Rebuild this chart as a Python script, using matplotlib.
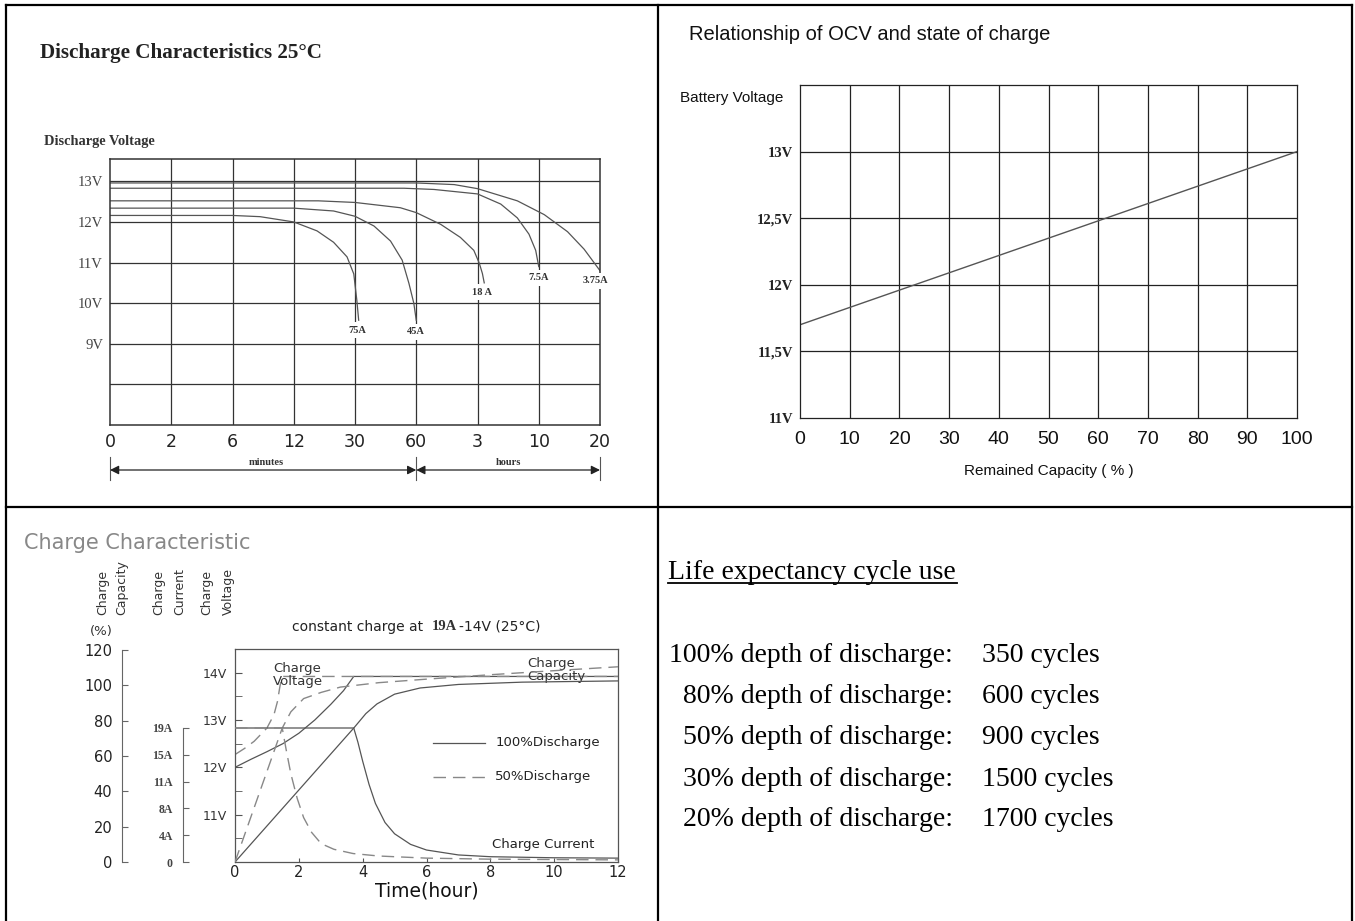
import matplotlib
matplotlib.use("Agg")
import matplotlib.pyplot as plt
from matplotlib.lines import Line2D
import numpy as np

W, H = 1355, 921
SERIF = "Liberation Serif"
ARIAL = "Liberation Sans"
NARROW = ["Liberation Sans Narrow", "Liberation Sans"]

# --- discharge characteristics (x in grid columns: 0,2,6,12,30,60 min | 3,10,20 h)
discharge_ticks = ["0", "2", "6", "12", "30", "60", "3", "10", "20"]
discharge_vticks = [9, 10, 11, 12, 13]
d375_x = [0, 5.0, 5.62, 6.0, 6.65, 7.09, 7.47, 7.74, 8.0]
d375_v = [12.96, 12.96, 12.92, 12.82, 12.52, 12.18, 11.76, 11.33, 10.8]
d7_5_x = [0, 4.8, 5.29, 6.0, 6.38, 6.65, 6.84, 6.95, 7.0]
d7_5_v = [12.83, 12.83, 12.8, 12.69, 12.44, 12.1, 11.7, 11.3, 10.9]
d18_x = [0, 3.4, 4.0, 4.74, 5.0, 5.4, 5.72, 5.94, 6.03, 6.08, 6.11]
d18_v = [12.52, 12.52, 12.48, 12.35, 12.23, 11.94, 11.62, 11.3, 10.98, 10.73, 10.5]
d45_x = [0, 3.0, 3.65, 4.0, 4.31, 4.58, 4.77, 4.88, 4.96, 5.0]
d45_v = [12.34, 12.34, 12.27, 12.14, 11.9, 11.53, 11.06, 10.49, 10.0, 9.58]
d75_x = [0, 2.0, 2.45, 3.0, 3.38, 3.65, 3.87, 3.98, 4.03, 4.06]
d75_v = [12.16, 12.16, 12.13, 12.0, 11.78, 11.5, 11.14, 10.72, 10.07, 9.58]
curve_labels = ["75A", "45A", "18 A", "7.5A", "3.75A"]
curve_label_x = [4.03, 5.0, 6.08, 7.0, 7.92]
curve_label_v = [9.33, 9.3, 10.27, 10.62, 10.55]

# --- OCV vs state of charge
ocv_capacity = [0, 100]
ocv_voltage = [11.7, 13.0]
ocv_vticks = [11, 11.5, 12, 12.5, 13]
ocv_vlabels = ["11V", "11,5V", "12V", "12,5V", "13V"]

# --- charge characteristic (time in hours)
v100_t = [0, 0.5, 1.0, 1.5, 2.0, 2.5, 3.0, 3.4, 3.72, 12]
v100_v = [12.0, 12.17, 12.33, 12.5, 12.72, 13.0, 13.33, 13.62, 13.92, 13.92]
v50_t = [0, 0.3, 0.6, 1.0, 1.22, 1.33, 1.4, 1.47, 12]
v50_v = [12.27, 12.4, 12.55, 12.83, 13.11, 13.39, 13.68, 13.92, 13.92]
cap100_t = [0, 3.72, 4.1, 4.45, 5.0, 5.8, 7.0, 9.0, 12]
cap100 = [0, 75.8, 84, 89.5, 95, 98.5, 100.5, 101.8, 102.5]
cap50_t = [0, 1.48, 1.75, 2.15, 2.7, 3.3, 4.5, 6, 8, 10, 12]
cap50 = [0, 75.8, 85, 92.5, 96, 99, 101.5, 103.5, 106, 108.3, 110.5]
i100_t = [0, 3.72, 3.85, 4.0, 4.2, 4.4, 4.7, 5.0, 5.5, 6.0, 7.0, 8.0, 10, 12]
i100 = [19, 19, 17, 14.3, 11, 8.3, 5.6, 4.0, 2.5, 1.7, 1.0, 0.75, 0.6, 0.55]
i50_t = [0, 1.48, 1.6, 1.75, 1.95, 2.15, 2.4, 2.7, 3.1, 3.7, 4.5, 6, 8, 10, 12]
i50 = [19, 19, 16, 12.5, 9, 6.3, 4.2, 2.6, 1.8, 1.2, 0.85, 0.55, 0.4, 0.35, 0.3]
cap_ticks = [0, 20, 40, 60, 80, 100, 120]
cur_labels = ["0", "4A", "8A", "11A", "15A", "19A"]
volt_labels = ["11V", "12V", "13V", "14V"]

# --- life expectancy
dod_levels = [100, 80, 50, 30, 20]
cycle_counts = [350, 600, 900, 1500, 1700]

fig = plt.figure(figsize=(W / 100, H / 100), dpi=100)


def box(x0, y0, x1, y1):
    # axes placed by pixel corners (top-left origin)
    return fig.add_axes([x0 / W, 1 - y1 / H, (x1 - x0) / W, (y1 - y0) / H])


def ftext(x, y, s, **kw):
    return fig.text(x / W, 1 - y / H, s, **kw)


def fline(x0, y0, x1, y1, **kw):
    fig.add_artist(Line2D([x0 / W, x1 / W], [1 - y0 / H, 1 - y1 / H], **kw))


# table frame
for seg in [(6, 5, 1352, 5), (6, 5, 6, 921), (1352, 5, 1352, 921),
            (658, 5, 658, 921), (6, 507, 1352, 507)]:
    fline(*seg, color="black", lw=1.6)

# ================= top left: discharge =================
ftext(40, 53, "Discharge Characteristics 25°C", family=SERIF, weight="bold",
      fontsize=15.2, color="#222", va="center")
ftext(44, 141, "Discharge Voltage", family=SERIF, weight="bold",
      fontsize=10.4, color="#333", va="center")

ax1 = box(110, 159, 600, 425)
ax1.set_xlim(0, 8)
ax1.set_ylim(7, 13.55)
for u in range(1, 8):
    ax1.axvline(u, color="#333", lw=0.9, zorder=1)
for v in range(8, 14):
    ax1.axhline(v, color="#333", lw=0.9, zorder=1)
for s in ax1.spines.values():
    s.set_color("#333")
    s.set_linewidth(1.1)
for xs, vs in [(d375_x, d375_v), (d7_5_x, d7_5_v), (d18_x, d18_v),
               (d45_x, d45_v), (d75_x, d75_v)]:
    ax1.plot(xs, vs, color="#555", lw=0.9, zorder=2)
for lab, lx, lv in zip(curve_labels, curve_label_x, curve_label_v):
    ax1.text(lx, lv, lab, ha="center", va="center", family=SERIF, weight="bold",
             fontsize=7.5, color="#333", zorder=3,
             bbox=dict(fc="white", ec="none", pad=2.5))
ax1.set_xticks(range(9))
ax1.set_xticklabels(discharge_ticks, fontsize=12.5, color="#222")
ax1.set_yticks(discharge_vticks)
ax1.set_yticklabels([f"{v}V" for v in discharge_vticks], family=SERIF,
                    fontsize=10.5, color="#444")
ax1.tick_params(length=0, axis="x", pad=6)
ax1.tick_params(length=0, axis="y", pad=5)

# minutes / hours arrows
xt = ax1.get_xaxis_transform()
ya = (425 - 470) / 266
for a, b in [(0, 5), (5, 8)]:
    ax1.annotate("", xy=(a, ya), xytext=(b, ya), xycoords=xt, textcoords=xt,
                 annotation_clip=False,
                 arrowprops=dict(arrowstyle="<|-|>", color="#222", lw=0.9,
                                 shrinkA=0, shrinkB=0, mutation_scale=13))
for u in [0, 5, 8]:
    ax1.plot([u, u], [(425 - 457) / 266, (425 - 480) / 266], transform=xt,
             color="#555", lw=0.8, clip_on=False)
ax1.text(2.55, (425 - 462) / 266, "minutes", transform=xt, ha="center",
         va="center", family=SERIF, weight="bold", fontsize=7.5, color="#333")
ax1.text(6.5, (425 - 462) / 266, "hours", transform=xt, ha="center",
         va="center", family=SERIF, weight="bold", fontsize=7.5, color="#333")

# ================= top right: OCV =================
ftext(689, 35, "Relationship of OCV and state of charge", family=ARIAL,
      fontsize=14.5, color="#111", va="center")
ftext(680, 98, "Battery Voltage", family=ARIAL, fontsize=11, color="#111",
      va="center")
ax2 = box(800, 85, 1297, 418)
ax2.set_xlim(0, 100)
ax2.set_ylim(11, 13.5)
for x in range(10, 100, 10):
    ax2.axvline(x, color="#222", lw=0.9, zorder=1)
for v in [11.5, 12, 12.5, 13]:
    ax2.axhline(v, color="#222", lw=0.9, zorder=1)
for s in ax2.spines.values():
    s.set_color("#222")
    s.set_linewidth(0.9)
ax2.plot(ocv_capacity, ocv_voltage, color="#555", lw=1.0, zorder=2)
ax2.set_xticks(range(0, 101, 10))
ax2.set_xticklabels([str(x) for x in range(0, 101, 10)], family=NARROW,
                    fontsize=14, color="#111")
ax2.set_yticks(ocv_vticks)
ax2.set_yticklabels(ocv_vlabels, family=SERIF, weight="bold", fontsize=10.5,
                    color="#222")
ax2.tick_params(length=0, axis="x", pad=9)
ax2.tick_params(length=0, axis="y", pad=5)
ax2.set_xlabel("Remained Capacity ( % )", family=ARIAL, fontsize=11,
               color="#111", labelpad=12)

# ================= bottom left: charge =================
ftext(24, 543, "Charge Characteristic", fontsize=15, color="#888", va="center")
for x, s in [(103, "Charge"), (122, "Capacity"), (159, "Charge"),
             (180, "Current"), (207, "Charge"), (228, "Voltage")]:
    ftext(x, 615, s, rotation=90, ha="center", va="bottom", fontsize=9,
          color="#333")
ftext(101, 632, "(%)", ha="center", va="center", fontsize=9.5, color="#333")
ftext(292, 627, "constant charge at", fontsize=10, color="#222", va="center")
ftext(432, 627, "19A", family=SERIF, weight="bold", fontsize=10.5,
      color="#333", va="center")
ftext(459, 627, "-14V (25°C)", fontsize=10, color="#222", va="center")

axv = box(235, 649, 618, 862)
axv.set_xlim(0, 12)
axv.set_ylim(10, 14.5)
for s in axv.spines.values():
    s.set_color("#555")
    s.set_linewidth(0.9)
axv.set_xticks(range(0, 13, 2))
axv.set_xticklabels([str(x) for x in range(0, 13, 2)], fontsize=10.5,
                    color="#222")
axv.set_yticks([11, 12, 13, 14])
axv.set_yticklabels(volt_labels, fontsize=9, color="#333")
axv.set_yticks(np.arange(10.5, 14.1, 1.0), minor=True)
axv.tick_params(axis="y", which="both", direction="in", length=5, right=True,
                color="#555", pad=6)
axv.tick_params(axis="x", direction="in", length=3, color="#555", pad=2)
axv.set_xlabel("Time(hour)", fontsize=13.5, color="#111", labelpad=1)

solid = dict(color="#555", lw=0.9)
dashed = dict(color="#888", lw=1.0, ls=(0, (9, 5)))
axv.plot(v100_t, v100_v, **solid)
axv.plot(v50_t, v50_v, **dashed)

axc = axv.twinx()
axc.set_ylim(0, 120 * 213 / 212)
axc.axis("off")
axc.plot(cap100_t, cap100, **solid)
axc.plot(cap50_t, cap50, **dashed)

axi = axv.twinx()
axi.set_ylim(0, 19 * 213 / 134)
axi.axis("off")
axi.plot(i100_t, i100, **solid)
axi.plot(i50_t, i50, **dashed)

# legend and curve names
axv.plot([6.2, 7.83], [12.52, 12.52], **solid)
axv.plot([6.2, 7.83], [11.8, 11.8], **dashed)
axv.text(8.15, 12.52, "100%Discharge", fontsize=9.5, color="#222", va="center")
axv.text(8.15, 11.8, "50%Discharge", fontsize=9.5, color="#222", va="center")
axv.text(1.19, 13.95, "Charge\nVoltage", fontsize=9.5, color="#333",
         va="center", linespacing=1.0)
axv.text(9.15, 14.06, "Charge\nCapacity", fontsize=9.5, color="#333",
         va="center", linespacing=1.0)
axv.text(8.05, 10.36, "Charge Current", fontsize=9.5, color="#222",
         va="center")

# separate capacity and current scales
axcap = box(122, 650, 123.5, 862)
axcap.set_ylim(0, 120)
axcap.patch.set_visible(False)
for k in ["top", "right", "bottom"]:
    axcap.spines[k].set_visible(False)
axcap.spines["left"].set_color("#666")
axcap.set_xticks([])
axcap.set_yticks(cap_ticks)
axcap.set_yticklabels([str(c) for c in cap_ticks], fontsize=10.5, color="#222")
axcap.tick_params(axis="y", direction="in", length=4, color="#666", pad=7)

axcur = box(182.5, 728, 184, 862)
axcur.set_ylim(0, 19)
axcur.patch.set_visible(False)
for k in ["top", "right", "bottom"]:
    axcur.spines[k].set_visible(False)
axcur.spines["left"].set_color("#666")
axcur.set_xticks([])
axcur.set_yticks(np.linspace(0, 19, len(cur_labels)))
axcur.set_yticklabels(cur_labels, family=SERIF, weight="bold", fontsize=8.5,
                      color="#444")
axcur.tick_params(axis="y", direction="in", length=4, color="#666", pad=7)

# ================= bottom right: life expectancy =================
ftext(668, 572, "Life expectancy cycle use", family=SERIF, fontsize=20,
      color="black", va="center")
fline(668, 583, 957, 583, color="black", lw=1.3)
row_y = [655, 696, 737, 779, 820]
for y, d, c in zip(row_y, dod_levels, cycle_counts):
    ftext(953, y, f"{d}% depth of discharge:", family=SERIF, fontsize=20,
          ha="right", va="center", color="black")
    ftext(982, y, f"{c} cycles", family=SERIF, fontsize=20, ha="left",
          va="center", color="black")

fig.savefig("out.png", dpi=100, facecolor="white")
